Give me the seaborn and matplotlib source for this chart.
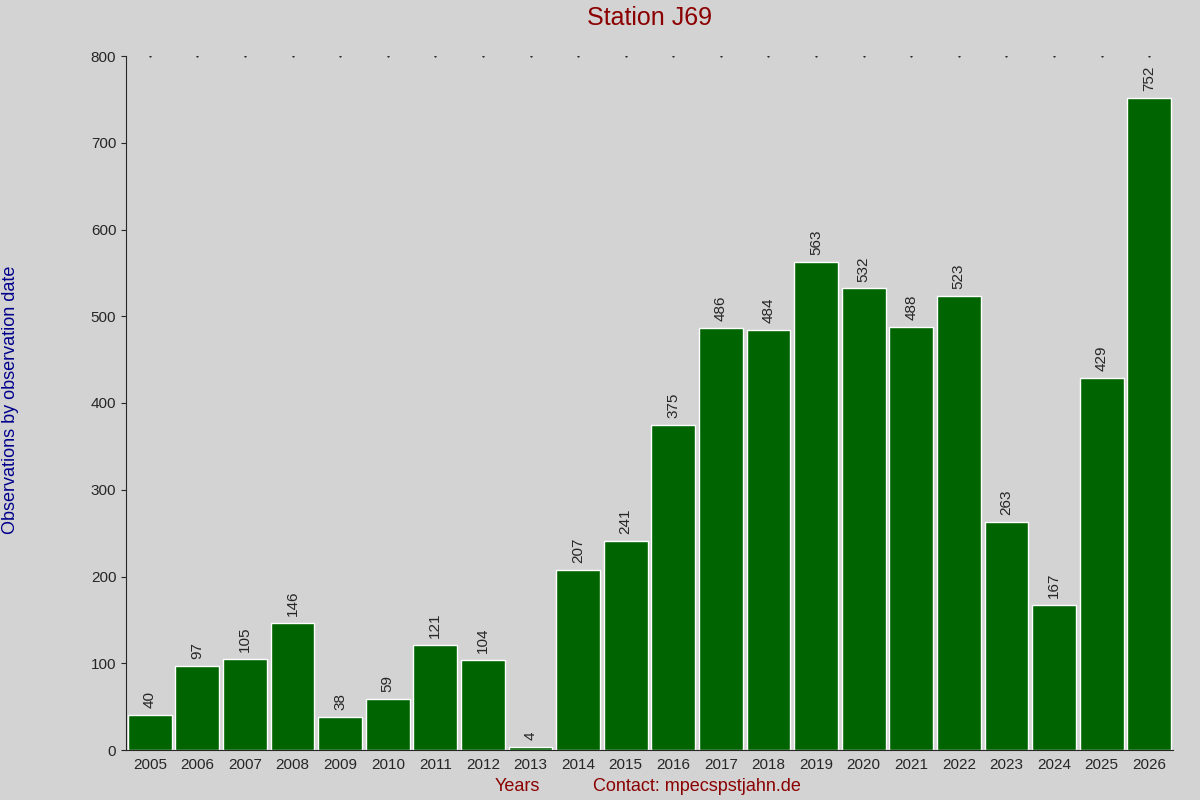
import matplotlib
matplotlib.use("Agg")
import matplotlib.pyplot as plt
import seaborn as sns
import pandas as pd

years = [str(y) for y in range(2005, 2027)]
counts = [40, 97, 105, 146, 38, 59, 121, 104, 4, 207, 241, 375, 486, 484,
          563, 532, 488, 523, 263, 167, 429, 752]

df = pd.DataFrame({"year": years, "count": counts})

sns.set_style("ticks")
plt.rcParams["font.family"] = ["Liberation Sans", "DejaVu Sans"]

fig = plt.figure(figsize=(12, 8), dpi=100, facecolor="#d3d3d3")
ax = fig.add_axes([0.105, 0.0625, 0.8725, 0.8675])
ax.set_facecolor("#d3d3d3")

sns.barplot(data=df, x="year", y="count", color="#006400", width=0.92,
            saturation=1, ax=ax)

for i, v in enumerate(counts):
    ax.text(i, v + 8, str(v), rotation=90, ha="center", va="bottom", fontsize=11)

# small dotted marks along the top
ax.scatter(range(len(years)), [800] * len(years), s=1, color="black", marker=".")

ax.set_xlim(-0.5, len(years) - 0.5)
ax.set_ylim(0, 800)
ax.set_yticks(range(0, 801, 100))
ax.tick_params(axis="both", labelsize=11, direction="out")
ax.tick_params(axis="x", length=0, pad=6)
sns.despine(ax=ax)
ax.set_xlabel("")
ax.set_ylabel("")

fig.text(0.541, 0.977, "Station J69", color="#8b0000", fontsize=18, ha="center", va="center")
fig.text(0.009, 0.5, "Observations by observation date", color="#00008b", fontsize=13,
         rotation=90, ha="center", va="center")
fig.text(0.431, 0.017, "Years", color="#8b0000", fontsize=13, ha="center", va="center")
fig.text(0.581, 0.017, "Contact: mpecspstjahn.de", color="#8b0000", fontsize=13,
         ha="center", va="center")

fig.savefig("out.png", dpi=100, facecolor=fig.get_facecolor())
